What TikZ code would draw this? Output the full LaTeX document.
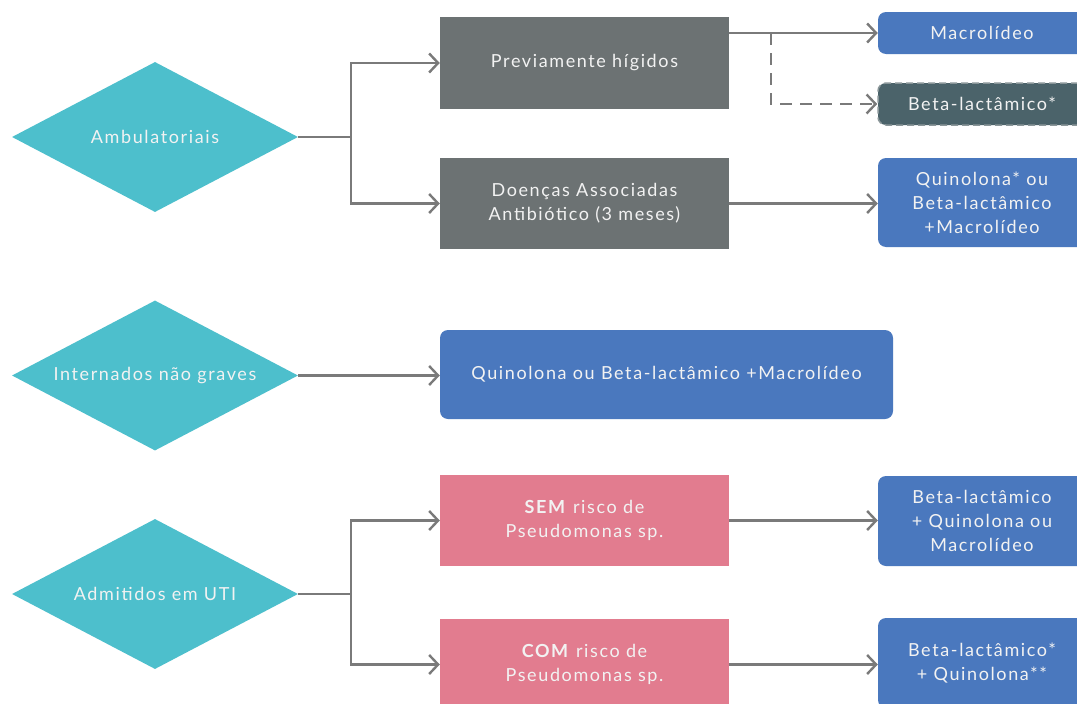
\documentclass[tikz,border=0pt]{standalone}
\usepackage{fontspec}
\setmainfont{Lato}[LetterSpace=9]
\usetikzlibrary{shapes.geometric,arrows.meta}
\definecolor{teal}{HTML}{4DBFCC}
\definecolor{boxgray}{HTML}{6C7273}
\definecolor{boxblue}{HTML}{4A78BE}
\definecolor{boxpink}{HTML}{E27C8F}
\definecolor{boxdark}{HTML}{4B636A}
\definecolor{dashgray}{HTML}{8A9699}
\definecolor{linegray}{HTML}{7A7A7A}
\definecolor{txt}{HTML}{F2F2F2}
\newcommand{\zw}[1]{\makebox[0pt]{#1}}
\tikzset{
  every node/.style={font=\fontsize{18}{24}\selectfont, text=txt, align=center},
  dia/.style={diamond, fill=teal, minimum width=286pt, minimum height=150pt, inner sep=0pt},
  graybox/.style={rectangle, fill=boxgray, minimum width=289pt, minimum height=91pt, inner sep=0pt},
  pinkbox/.style={rectangle, fill=boxpink, minimum width=289pt, minimum height=91pt, inner sep=0pt},
  bluebox/.style={rectangle, rounded corners=8pt, fill=boxblue, minimum width=208pt, inner sep=0pt},
  darkbox/.style={rectangle, rounded corners=8pt, fill=boxdark, draw=dashgray, line width=1.5pt, dash pattern=on 7pt off 4pt, minimum width=208pt, inner sep=0pt},
  conn/.style={draw=linegray, line width=2.4pt, -{Straight Barb[length=9pt,width=19pt,line width=2.4pt]}},
  dconn/.style={conn, dash pattern=on 12pt off 8pt},
}
\begin{document}
\begin{tikzpicture}[x=1pt,y=-1pt]
\useasboundingbox (0,0) rectangle (1077,704);
\fill[white] (0,0) rectangle (1077,704);
\clip (0,0) rectangle (1077,704);
% diamonds
\node[dia] (d1) at (155,137) {\zw{Ambulatoriais}};
\node[dia] (d2) at (155,375.5) {\zw{Internados não graves}};
\node[dia] (d3) at (155,594) {\zw{Admitidos em UTI}};
% second column
\node[graybox, minimum height=92pt] (g1) at (584.5,63) {Previamente hígidos};
\node[graybox] (g2) at (584.5,203.5) {Doenças Associadas\\Antibiótico (3 meses)};
\node[bluebox, minimum width=453pt, minimum height=89pt] (r4) at (666.5,374.5) {Quinolona ou Beta-lactâmico +Macrolídeo};
\node[pinkbox] (p1) at (584.5,520.5) {\textbf{SEM} risco de\\Pseudomonas sp.};
\node[pinkbox] (p2) at (584.5,664.5) {\textbf{COM} risco de\\Pseudomonas sp.};
% third column
\node[bluebox, minimum height=42pt] (r1) at (982,33) {Macrolídeo};
\node[darkbox, minimum height=42pt] (r2) at (982,104) {Beta-lactâmico*};
\node[bluebox, minimum height=89pt] (r3) at (982,202.5) {Quinolona* ou\\Beta-lactâmico\\+Macrolídeo};
\node[bluebox, minimum height=90pt] (r5) at (982,521) {Beta-lactâmico\\+ Quinolona ou\\Macrolídeo};
\node[bluebox, minimum height=90pt] (r6) at (982,663) {Beta-lactâmico*\\+ Quinolona**};
% junctions
\coordinate (b1) at (351,137);
\coordinate (b3) at (351,594);
\coordinate (dj) at (771,33);
% connectors
\draw[draw=linegray, line width=2.4pt] (d1.east) -- (b1);
\draw[conn] (b1) |- (g1.west);
\draw[conn] (b1) |- (g2.west);
\draw[conn] (r1.west -| g1.east) -- (r1.west);
\draw[dconn] (dj) |- (r2.west);
\draw[conn] (g2.east) -- (g2.east -| r3.west);
\draw[conn] (d2.east) -- (d2.east -| r4.west);
\draw[draw=linegray, line width=2.4pt] (d3.east) -- (b3);
\draw[conn] (b3) |- (p1.west);
\draw[conn] (b3) |- (p2.west);
\draw[conn] (p1.east) -- (p1.east -| r5.west);
\draw[conn] (p2.east) -- (p2.east -| r6.west);
\end{tikzpicture}
\end{document}
